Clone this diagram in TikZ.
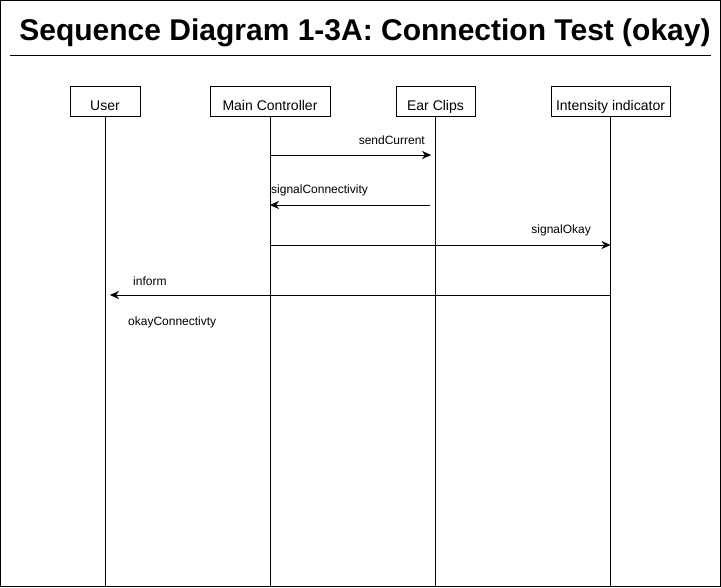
\documentclass[tikz,border=0pt]{standalone}
\usepackage{fontspec}
\setmainfont{Liberation Sans}
\usetikzlibrary{arrows.meta}
\begin{document}
\begin{tikzpicture}[x=1pt,y=-1pt,
  block/.style={rectangle,draw,minimum height=30pt,inner sep=0pt,text height=18pt,text depth=0pt,font=\fontsize{14}{16}\selectfont},
  msg/.style={inner sep=0pt,font=\fontsize{12}{14}\selectfont},
  call/.style={-{Stealth[length=9pt,width=8pt]}}]
\useasboundingbox (0,0) rectangle (721,587);
\draw (0.5,0.5) rectangle (720.5,586.5);
\node at (365,33) (title) {\fontsize{30}{34}\selectfont\bfseries Sequence Diagram 1-3A: Connection Test (okay)};
\draw (10,55.5) -- (711,55.5);
% actors
\node at (105,101)   (user)  [block, minimum width=70pt]  {User};
\node at (270,101)   (ctrl)  [block, minimum width=120pt] {Main Controller};
\node at (435.5,101) (clips) [block, minimum width=79pt]  {Ear Clips};
\node at (610.5,101) (meter) [block, minimum width=119pt] {Intensity indicator};
% lifelines
\coordinate (userEnd)  at (105,587);
\coordinate (ctrlEnd)  at (270,587);
\coordinate (clipsEnd) at (435.5,587);
\coordinate (meterEnd) at (610.5,587);
\draw (user.south)  -- (userEnd);
\draw (ctrl.south)  -- (ctrlEnd);
\draw (clips.south) -- (clipsEnd);
\draw (meter.south) -- (meterEnd);
% messages
\coordinate (send1) at (270,155);   \coordinate (send2) at (431,155);
\coordinate (sig1)  at (430,205);   \coordinate (sig2)  at (270,205);
\coordinate (okay1) at (270,245);   \coordinate (okay2) at (610.5,245);
\coordinate (inf1)  at (610.5,295); \coordinate (inf2)  at (110,295);
\draw [call] (send1) -- (send2);
\draw [call] (sig1)  -- (sig2);
\draw [call] (okay1) -- (okay2);
\draw [call] (inf1)  -- (inf2);
\node at (425,140) (lblSend) [msg, anchor=east] {sendCurrent};
\node at (271,190) (lblSig)  [msg, anchor=west] {signalConnectivity};
\node at (591,230) (lblOkay) [msg, anchor=east] {signalOkay};
\node at (133,281) (lblInf)  [msg, anchor=west] {inform};
\node at (128,322) (lblConn) [msg, anchor=west] {okayConnectivty};
\end{tikzpicture}
\end{document}
